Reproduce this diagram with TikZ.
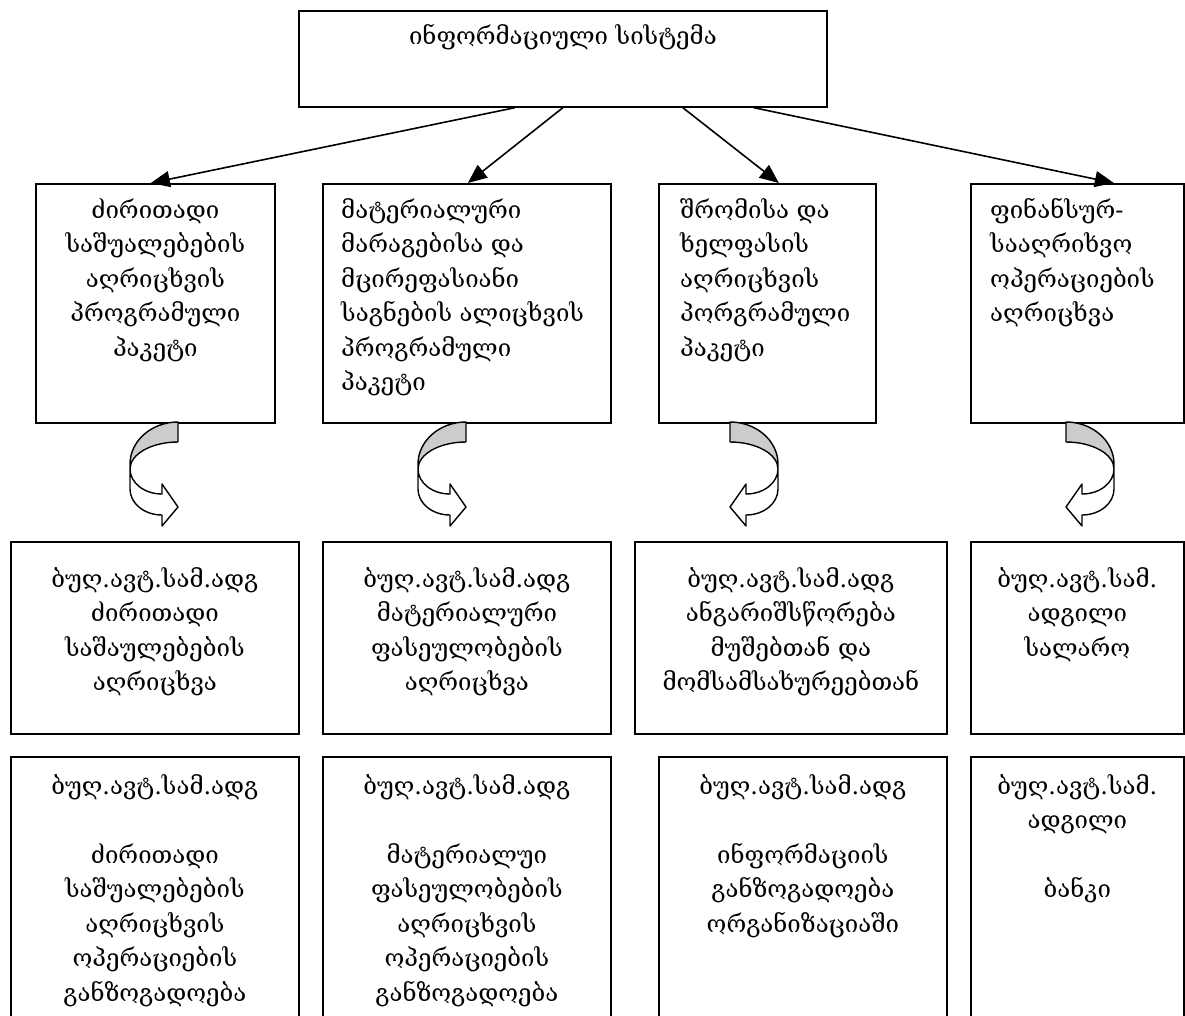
\documentclass[tikz,border=0pt]{standalone}
\usepackage{fontspec}
\setmainfont{DejaVu Serif}
\usetikzlibrary{arrows.meta}

\begin{document}
\begin{tikzpicture}[x=1pt,y=-1pt,
  frame/.style={draw=black, line width=1.7pt, inner sep=0pt, anchor=north west},
  txt/.style={inner sep=0pt, font=\fontsize{24}{34.5}\selectfont},
  link/.style={line width=1.6pt, -{Triangle[length=19pt,width=16pt]}},
  turn/.pic={
    % shaded back of the band
    \fill[gray!40] (0,0) .. controls (-26.5,0) and (-48,19) .. (-48,42)
      -- (-48,47) .. controls (-48,32.1) and (-26.5,20) .. (0,20) -- cycle;
    % outline of the curved block arrow
    \draw[line width=1.4pt, line join=round]
      (0,0) .. controls (-26.5,0) and (-48,19) .. (-48,42)
      -- (-48,67) .. controls (-48,81.4) and (-33.7,93) .. (-16,93)
      -- (-16,104) -- (0,85) -- (-16,62) -- (-16,72)
      .. controls (-33.7,72) and (-48,60.8) .. (-48,47)
      .. controls (-48,32.1) and (-26.5,20) .. (0,20) -- cycle;
  },
]
\useasboundingbox (0,0) rectangle (1185,1015);
\clip (0,0) rectangle (1185,1015);

% top level
\node[frame, minimum width=528pt, minimum height=96pt] (sys) at (298,10) {};
\node[txt, anchor=north, align=center] (sys-t) at ([yshift=-10pt]sys.north)
  {\strut ინფორმაციული სისტემა};

% software packages
\node[frame, minimum width=239pt, minimum height=239pt] (b1) at (35,183) {};
\node[frame, minimum width=288pt, minimum height=239pt] (b2) at (322,183) {};
\node[frame, minimum width=217pt, minimum height=239pt] (b3) at (658,183) {};
\node[frame, minimum width=213pt, minimum height=239pt] (b4) at (970,183) {};

\node[txt, anchor=north, align=center] (b1-t) at ([yshift=-11pt]b1.north)
  {\strut ძირითადი\\საშუალებების\\აღრიცხვის\\პროგრამული\\პაკეტი};
\node[txt, anchor=north west, align=left] (b2-t) at ([xshift=19pt,yshift=-11pt]b2.north west)
  {\strut მატერიალური\\მარაგებისა და\\მცირეფასიანი\\საგნების ალიცხვის\\პროგრამული\\პაკეტი};
\node[txt, anchor=north west, align=left] (b3-t) at ([xshift=22pt,yshift=-11pt]b3.north west)
  {\strut შრომისა და\\ხელფასის\\აღრიცხვის\\პორგრამული\\პაკეტი};
\node[txt, anchor=north west, align=left] (b4-t) at ([xshift=20pt,yshift=-11pt]b4.north west)
  {\strut ფინანსურ-\\სააღრიხვო\\ოპერაციების\\აღრიცხვა};

\draw[link] ([xshift=-48pt]sys.south) -- ([xshift=-4.5pt]b1.north);
\draw[link] (sys.south) -- ([xshift=1pt]b2.north);
\draw[link] ([xshift=120pt]sys.south) -- ([xshift=11.5pt]b3.north);
\draw[link] ([xshift=191pt]sys.south) -- ([xshift=36.5pt]b4.north);

% curved block arrows
\path (178,422) pic {turn};
\path (466,422) pic {turn};
\path (730,422) pic[xscale=-1] {turn};
\path (1066,422) pic[xscale=-1] {turn};

% workplaces
\node[frame, minimum width=288pt, minimum height=192pt] (c1) at (10,541) {};
\node[frame, minimum width=288pt, minimum height=192pt] (c2) at (322,541) {};
\node[frame, minimum width=312pt, minimum height=192pt] (c3) at (634,541) {};
\node[frame, minimum width=213pt, minimum height=192pt] (c4) at (970,541) {};

\node[txt, anchor=north, align=center] (c1-t) at ([yshift=-22pt]c1.north)
  {\strut ბუღ.ავტ.სამ.ადგ\\ძირითადი\\საშაულებების\\აღრიცხვა};
\node[txt, anchor=north, align=center] (c2-t) at ([yshift=-22pt]c2.north)
  {\strut ბუღ.ავტ.სამ.ადგ\\მატერიალური\\ფასეულობების\\აღრიცხვა};
\node[txt, anchor=north, align=center] (c3-t) at ([yshift=-22pt]c3.north)
  {\strut ბუღ.ავტ.სამ.ადგ\\ანგარიშსწორება\\მუშებთან და\\მომსამსახურეებთან};
\node[txt, anchor=north, align=center] (c4-t) at ([yshift=-22pt]c4.north)
  {\strut ბუღ.ავტ.სამ.\\ადგილი\\სალარო};

% generalisation
\node[frame, minimum width=288pt, minimum height=280pt] (d1) at (10,756) {};
\node[frame, minimum width=288pt, minimum height=280pt] (d2) at (322,756) {};
\node[frame, minimum width=288pt, minimum height=280pt] (d3) at (658,756) {};
\node[frame, minimum width=213pt, minimum height=280pt] (d4) at (970,756) {};

\node[txt, anchor=north, align=center] (d1-t) at ([yshift=-14pt]d1.north)
  {\strut ბუღ.ავტ.სამ.ადგ\\~\\ძირითადი\\საშუალებების\\აღრიცხვის\\ოპერაციების\\განზოგადოება};
\node[txt, anchor=north, align=center] (d2-t) at ([yshift=-14pt]d2.north)
  {\strut ბუღ.ავტ.სამ.ადგ\\~\\მატერიალუი\\ფასეულობების\\აღრიცხვის\\ოპერაციების\\განზოგადოება};
\node[txt, anchor=north, align=center] (d3-t) at ([yshift=-14pt]d3.north)
  {\strut ბუღ.ავტ.სამ.ადგ\\~\\ინფორმაციის\\განზოგადოება\\ორგანიზაციაში};
\node[txt, anchor=north, align=center] (d4-t) at ([yshift=-14pt]d4.north)
  {\strut ბუღ.ავტ.სამ.\\ადგილი\\~\\ბანკი};
\end{tikzpicture}
\end{document}
